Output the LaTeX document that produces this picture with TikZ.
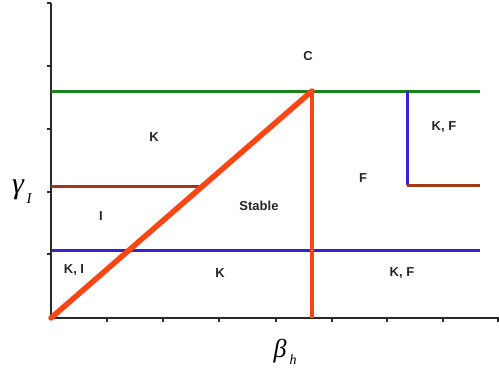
\documentclass[tikz,border=0pt]{standalone}
\usepackage{fontspec}
\setmainfont{Liberation Sans}
\newfontfamily\serifgreek{Liberation Serif}
\definecolor{lgreen}{RGB}{25,130,25}
\definecolor{lblue}{RGB}{55,35,215}
\definecolor{lbrown}{RGB}{165,55,25}
\definecolor{lorange}{RGB}{250,70,20}
\definecolor{laxis}{RGB}{40,40,40}
\begin{document}
\begin{tikzpicture}[x=1pt,y=-1pt,
  region/.style={font=\fontsize{13}{14}\selectfont\bfseries, text=black!85, inner sep=0pt},
  axisline/.style={laxis, line width=2.2pt},
  tickline/.style={laxis, line width=1.2pt},
  greenline/.style={lgreen, line width=3pt},
  blueline/.style={lblue, line width=3pt},
  brownline/.style={lbrown, line width=3pt},
  orangethick/.style={lorange, line width=5.5pt},
  orangethin/.style={lorange, line width=3.5pt}]
\useasboundingbox (0,0) rectangle (499,372);
% axes
\coordinate (O) at (51,318);
\coordinate (ytop) at (51,3);
\coordinate (xend) at (499,318);
\draw[axisline] (ytop) -- (O) -- (xend);
\foreach \y in {3,66,129,192,254} \draw[tickline] (47,\y) -- (51,\y);
\foreach \x in {107,163,219,276,332,387,443,498} \draw[tickline] (\x,318) -- (\x,322);
% coordinates
\coordinate (gL) at (51,91);
\coordinate (gR) at (480,91);
\coordinate (apex) at (312,91);
\coordinate (bL) at (51,250);
\coordinate (bR) at (480,250);
\coordinate (brL) at (51,186);
\coordinate (brM) at (202,186);
\coordinate (vBase) at (312,318);
\coordinate (bvTop) at (407,91);
\coordinate (bvBot) at (407,185);
\coordinate (brR) at (480,185);
% lines
\draw[blueline] (bL) -- (bR);
\draw[brownline] (brL) -- (brM);
\draw[orangethin] (apex) -- (vBase);
\draw[greenline] (gL) -- (gR);
\draw[blueline] (bvTop) -- (bvBot);
\draw[brownline] (bvBot) -- (brR);
\draw[orangethick, line cap=round] (O) -- (apex);
% labels
\node[region] (lC) at (308,56) {C};
\node[region] (lK1) at (154,137) {K};
\node[region] (lI) at (101,216) {I};
\node[region] (lKI) at (74,270) {K, I};
\node[region] (lS) at (259,206) {Stable};
\node[region] (lK2) at (220,273) {K};
\node[region] (lF) at (363,178) {F};
\node[region] (lKF1) at (444,127) {K, F};
\node[region] (lKF2) at (402,273) {K, F};
% axis labels
\node[inner sep=0pt, font=\serifgreek\itshape\fontsize{30}{30}\selectfont] (gam) at (18,190) {γ};
\node[inner sep=0pt, font=\serifgreek\itshape\fontsize{15}{15}\selectfont] (gsub) at (29,199) {I};
\node[inner sep=0pt, font=\serifgreek\itshape\fontsize{26}{26}\selectfont] (bet) at (280,351) {β};
\node[inner sep=0pt, font=\serifgreek\itshape\fontsize{14}{14}\selectfont] (bsub) at (293,360) {h};
\end{tikzpicture}
\end{document}
